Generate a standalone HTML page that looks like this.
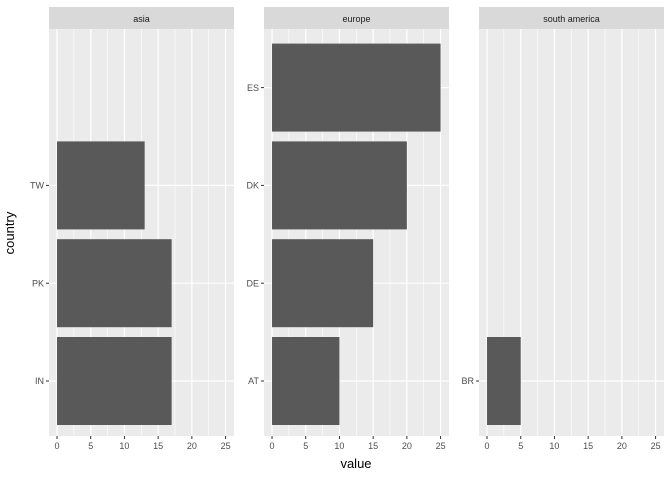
<!DOCTYPE html>
<html><head><meta charset="utf-8"><style>
body{margin:0;background:#fff}
svg{display:block;font-family:"Liberation Sans",sans-serif}
</style></head><body>
<svg id="chart" width="672" height="480">
<text x="356" y="468" text-anchor="middle" font-size="13" fill="#000">value</text>
<text transform="translate(14,233) rotate(-90)" text-anchor="middle" font-size="13" fill="#000">country</text>
</svg>
<script>
const facets = ["asia", "europe", "south america"];
const asiaCats = ["IN", "PK", "TW"];
const asiaVals = [17, 17, 13];
const europeCats = ["AT", "DE", "DK", "ES"];
const europeVals = [10, 15, 20, 25];
const samCats = ["BR"];
const samVals = [5];
const xTicks = [0, 5, 10, 15, 20, 25];

const cats = [asiaCats, europeCats, samCats];
const vals = [asiaVals, europeVals, samVals];
const NS = "http://www.w3.org/2000/svg";
const svgEl = document.getElementById("chart");
function mk(tag, attrs, parent) {
  const e = document.createElementNS(NS, tag);
  for (const k in attrs) e.setAttribute(k, attrs[k]);
  (parent || svgEl).appendChild(e);
  return e;
}
const panelW = 185, panelGap = 30, left0 = 49, pTop = 29, pBottom = 436, stripTop = 7;
const slotH = 97.8, barH = 88, firstOff = 55;
const xmin = -1.19, xmax = 26.25;
facets.forEach((f, i) => {
  const px = left0 + i * (panelW + panelGap);
  const xs = v => px + (v - xmin) / (xmax - xmin) * panelW;
  const ys = k => pBottom - firstOff - k * slotH;
  const g = mk("g", {});
  
  
  const strip = mk("rect", {x: px, y: stripTop, width: panelW, height: pTop - stripTop, fill: "#d9d9d9"}, g);
  
  
  const st = mk("text", {x: px + panelW / 2, y: 22, "text-anchor": "middle", "font-size": "9", fill: "#1a1a1a"}, g);
  st.textContent = f;
  
  
  const bg = mk("rect", {x: px, y: pTop, width: panelW, height: pBottom - pTop, fill: "#ebebeb"}, g);
  
  
  for (let j = 0; j < xTicks.length - 1; j++) {
    const m = (xTicks[j] + xTicks[j + 1]) / 2;
    mk("line", {x1: xs(m), x2: xs(m), y1: pTop, y2: pBottom, stroke: "#fff", "stroke-width": 0.6}, g);
  }
  xTicks.forEach(t => {
    const l = mk("line", {x1: xs(t), x2: xs(t), y1: pTop, y2: pBottom, stroke: "#fff", "stroke-width": 1.2}, g);
    
    
    mk("line", {x1: xs(t), x2: xs(t), y1: pBottom, y2: pBottom + 3, stroke: "#333", "stroke-width": 1}, g);
    const tl = mk("text", {x: xs(t), y: pBottom + 13, "text-anchor": "middle", "font-size": "9", fill: "#4d4d4d"}, g);
    tl.textContent = t;
    
    
  });
  cats[i].forEach((c, k) => {
    const y = ys(k);
    mk("line", {x1: px, x2: px + panelW, y1: y, y2: y, stroke: "#fff", "stroke-width": 1.2}, g);
    mk("line", {x1: px - 3, x2: px, y1: y, y2: y, stroke: "#333", "stroke-width": 1}, g);
    const yl = mk("text", {x: px - 5, y: y + 3.2, "text-anchor": "end", "font-size": "9", fill: "#4d4d4d"}, g);
    yl.textContent = c;
    
    
    const b = mk("rect", {x: xs(0), y: y - barH / 2, width: xs(vals[i][k]) - xs(0), height: barH, fill: "#595959"}, g);
    
    
  });
});
</script>
</body></html>
